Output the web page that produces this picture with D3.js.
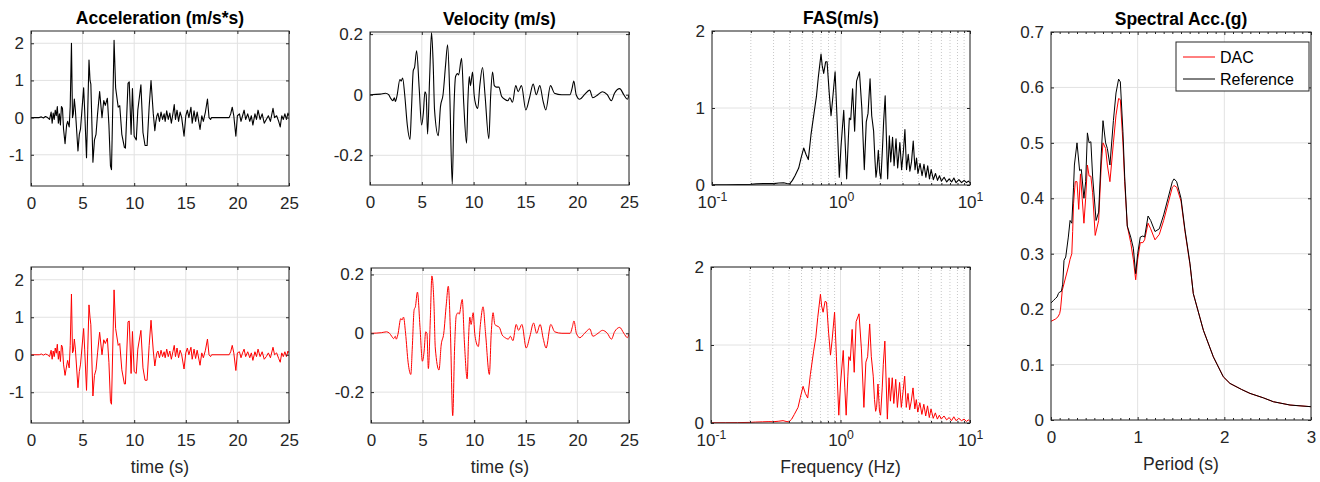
<!DOCTYPE html>
<html>
<head>
<meta charset="utf-8">
<script src="https://cdn.jsdelivr.net/npm/d3@7"></script>
<style>
body { margin: 0; background: #fff; }
svg { display: block; font-family: "Liberation Sans", Arial, sans-serif; }
</style>
</head>
<body>
<svg id="fig" width="1320" height="482"></svg>
<script>
// ground acceleration, reference record [t (s), a (m/s^2)]
var accRef = [[0,0],[0.8,0],[1.0,0.02],[1.2,-0.01],[1.4,0.03],[1.6,0],[1.8,-0.05],[1.95,0.15],[2.05,-0.15],[2.15,0.12],[2.25,-0.05],[2.35,0.2],[2.45,0.05],[2.55,0.3],[2.65,-0.15],[2.75,0.1],[2.85,-0.2],[2.95,0.3],[3.05,0.25],[3.15,-0.3],[3.3,-0.7],[3.45,-0.2],[3.55,-0.1],[3.7,-0.25],[3.8,0.3],[3.92,2.0],[4.02,0],[4.1,0.1],[4.2,0.5],[4.3,0.2],[4.55,-0.9],[4.68,-0.45],[4.8,-0.3],[5.1,0.8],[5.2,0.2],[5.38,-1.08],[5.5,0.2],[5.62,1.55],[5.72,1.0],[5.8,0.9],[6.0,-1.2],[6.15,-0.6],[6.3,-0.45],[6.45,0.1],[6.65,0.7],[6.88,0],[7.05,0.46],[7.2,0.33],[7.4,0.52],[7.55,-0.2],[7.7,-1.3],[7.8,-1.4],[8.05,2.08],[8.2,0.8],[8.45,0.28],[8.6,0.32],[8.8,-0.45],[9.05,-0.8],[9.15,-0.82],[9.4,0.92],[9.52,0.96],[9.7,-0.45],[9.83,0.78],[10.0,-0.5],[10.2,-0.6],[10.35,0.2],[10.65,0.88],[10.85,-0.4],[11.05,-0.75],[11.25,-0.75],[11.45,0.3],[11.63,1.0],[11.85,0.1],[12.0,-0.35],[12.1,-0.1],[12.2,0.05],[12.3,0.12],[12.45,-0.1],[12.6,0.15],[12.75,-0.05],[12.9,0.1],[13.0,-0.1],[13.15,0.18],[13.3,-0.05],[13.45,0.12],[13.6,-0.15],[13.75,0.1],[13.88,0.35],[14.0,-0.05],[14.15,0.2],[14.3,-0.1],[14.45,0.15],[14.6,0],[14.83,-0.5],[15.0,0.05],[15.15,0.2],[15.3,0],[15.5,0.28],[15.62,-0.15],[15.8,0.18],[15.95,-0.1],[16.1,0.15],[16.38,-0.32],[16.55,0.05],[16.7,-0.1],[16.9,0.15],[17.1,0.5],[17.25,0],[17.4,-0.05],[17.5,0],[19.2,0],[19.35,0.1],[19.5,0.28],[19.65,0.05],[19.85,-0.5],[20.0,0.05],[20.2,0.1],[20.35,-0.1],[20.5,0.05],[20.65,0.2],[20.8,-0.05],[21.0,0.1],[21.2,-0.1],[21.35,0.05],[21.5,-0.2],[21.7,0.1],[21.85,-0.05],[22.0,0.2],[22.2,-0.05],[22.4,0.1],[22.6,-0.15],[22.8,-0.05],[23.0,0.05],[23.2,-0.1],[23.45,0.25],[23.6,0],[23.8,0.05],[24.0,-0.1],[24.15,-0.25],[24.3,0.05],[24.45,-0.05],[24.6,0.1],[24.75,-0.05],[24.9,0.12],[25,0.05]];

// ground acceleration, DAC record
var accDac = [[0,0],[0.8,0],[1.0,0.02],[1.2,-0.01],[1.4,0.02],[1.6,0],[1.8,-0.05],[1.95,0.12],[2.05,-0.12],[2.15,0.1],[2.25,-0.05],[2.35,0.18],[2.45,0.04],[2.55,0.28],[2.65,-0.12],[2.75,0.1],[2.85,-0.18],[2.95,0.26],[3.05,0.2],[3.15,-0.25],[3.3,-0.55],[3.45,-0.3],[3.55,-0.15],[3.7,-0.35],[3.8,0.25],[3.92,1.62],[4.02,0.05],[4.1,0.1],[4.2,0.42],[4.3,0.15],[4.55,-0.88],[4.68,-0.45],[4.8,-0.25],[5.1,0.7],[5.2,0.15],[5.38,-0.95],[5.5,0.15],[5.62,1.33],[5.72,1.0],[5.8,0.8],[6.0,-1.1],[6.15,-0.55],[6.3,-0.4],[6.45,0.05],[6.65,0.6],[6.88,0],[7.05,0.4],[7.2,0.3],[7.4,0.44],[7.55,-0.2],[7.7,-1.25],[7.8,-1.32],[8.05,1.73],[8.2,0.7],[8.45,0.25],[8.6,0.3],[8.8,-0.4],[9.05,-0.78],[9.15,-0.78],[9.4,0.88],[9.52,0.9],[9.7,-0.5],[9.83,0.62],[10.0,-0.45],[10.2,-0.5],[10.35,0.15],[10.65,0.65],[10.85,-0.35],[11.05,-0.68],[11.25,-0.68],[11.45,0.25],[11.63,0.92],[11.85,0.1],[12.0,-0.3],[12.1,-0.1],[12.2,0.05],[12.3,0.1],[12.45,-0.08],[12.6,0.12],[12.75,-0.05],[12.9,0.08],[13.0,-0.08],[13.15,0.15],[13.3,-0.05],[13.45,0.1],[13.6,-0.12],[13.75,0.08],[13.88,0.25],[14.0,-0.05],[14.15,0.18],[14.3,-0.08],[14.45,0.12],[14.6,0],[14.83,-0.38],[15.0,0.05],[15.15,0.18],[15.3,0],[15.5,0.2],[15.62,-0.12],[15.8,0.15],[15.95,-0.1],[16.1,0.12],[16.38,-0.28],[16.55,0.05],[16.7,-0.08],[16.9,0.12],[17.1,0.42],[17.25,0],[17.4,-0.05],[17.5,0],[19.2,0],[19.35,0.08],[19.5,0.25],[19.65,0.05],[19.85,-0.42],[20.0,0.05],[20.2,0.08],[20.35,-0.08],[20.5,0.05],[20.65,0.15],[20.8,-0.05],[21.0,0.08],[21.2,-0.08],[21.35,0.05],[21.5,-0.15],[21.7,0.08],[21.85,-0.05],[22.0,0.15],[22.2,-0.05],[22.4,0.08],[22.6,-0.12],[22.8,-0.05],[23.0,0.05],[23.2,-0.08],[23.45,0.2],[23.6,0],[23.8,0.05],[24.0,-0.1],[24.15,-0.2],[24.3,0.05],[24.45,-0.05],[24.6,0.08],[24.75,-0.05],[24.9,0.1],[25,0.05]];

// ground velocity [t (s), v (m/s)]
var velRef = [[0,0],[1.0,0.002],[1.5,0.005],[1.8,0],[2.0,-0.012],[2.2,-0.02],[2.35,-0.01],[2.45,-0.022],[2.6,-0.005],[2.89,0.05],[3.0,0.045],[3.15,0.055],[3.35,0],[3.6,-0.1],[3.86,-0.148],[4.0,-0.05],[4.18,0.08],[4.3,0.09],[4.5,0.145],[4.75,0.02],[4.98,-0.1],[5.15,-0.06],[5.3,0.01],[5.42,0],[5.56,-0.13],[5.75,0.05],[5.94,0.205],[6.1,0.1],[6.23,-0.05],[6.59,-0.135],[6.8,-0.04],[7.05,0],[7.3,0.1],[7.49,0.165],[7.7,0],[7.94,-0.295],[8.1,-0.05],[8.26,0.06],[8.45,0.07],[8.55,0.065],[8.84,0.12],[9.05,-0.03],[9.32,-0.16],[9.45,-0.02],[9.58,0.06],[9.7,0.03],[9.9,0.075],[10.05,0],[10.19,-0.03],[10.4,-0.045],[10.6,0.03],[10.86,0.09],[11.1,0],[11.47,-0.145],[11.65,0],[11.83,0.075],[12.0,0.03],[12.2,0.025],[12.44,0.025],[12.7,-0.005],[13.0,-0.015],[13.3,-0.02],[13.5,-0.01],[13.75,-0.025],[14.07,0.03],[14.3,0.01],[14.62,0.03],[15.04,-0.05],[15.4,-0.01],[15.75,0.035],[16.05,0],[16.39,0.03],[16.7,-0.02],[16.97,-0.05],[17.42,0.03],[17.8,0.005],[18.5,0],[19.3,0],[19.5,0.02],[19.67,0.045],[19.9,0],[20.24,-0.015],[20.7,0],[21.2,0.015],[21.5,-0.01],[22.0,0],[22.43,0.01],[22.9,0],[23.3,-0.02],[23.6,0.005],[24.1,0.02],[24.5,0],[24.85,-0.015],[25,0]];

var velDac = [[0,0],[1.0,0.002],[1.5,0.005],[1.8,0],[2.0,-0.01],[2.2,-0.018],[2.35,-0.01],[2.45,-0.02],[2.6,-0.005],[2.89,0.05],[3.0,0.045],[3.15,0.055],[3.35,0],[3.6,-0.1],[3.86,-0.14],[4.0,-0.05],[4.18,0.08],[4.3,0.09],[4.5,0.14],[4.75,0.02],[4.98,-0.095],[5.15,-0.06],[5.3,0.005],[5.42,0],[5.56,-0.12],[5.75,0.05],[5.9,0.195],[6.1,0.1],[6.23,-0.05],[6.59,-0.125],[6.8,-0.04],[7.05,0],[7.3,0.1],[7.49,0.16],[7.7,0],[7.92,-0.28],[8.1,-0.05],[8.26,0.06],[8.45,0.07],[8.55,0.065],[8.84,0.115],[9.05,-0.03],[9.32,-0.155],[9.45,-0.02],[9.58,0.055],[9.7,0.03],[9.9,0.07],[10.05,0],[10.19,-0.03],[10.4,-0.045],[10.6,0.03],[10.86,0.09],[11.1,0],[11.47,-0.14],[11.65,0],[11.83,0.07],[12.0,0.03],[12.2,0.025],[12.44,0.02],[12.7,-0.005],[13.0,-0.015],[13.3,-0.02],[13.5,-0.01],[13.75,-0.025],[14.07,0.03],[14.3,0.01],[14.62,0.03],[15.04,-0.05],[15.4,-0.01],[15.75,0.035],[16.05,0],[16.39,0.03],[16.7,-0.02],[16.97,-0.05],[17.42,0.03],[17.8,0.005],[18.5,0],[19.3,0],[19.5,0.02],[19.67,0.042],[19.9,0],[20.24,-0.015],[20.7,0],[21.2,0.015],[21.5,-0.01],[22.0,0],[22.43,0.01],[22.9,0],[23.3,-0.02],[23.6,0.005],[24.1,0.02],[24.5,0],[24.85,-0.015],[25,0]];

// Fourier amplitude spectrum [f (Hz), FAS]
var fasRef = [[0.1,0.003],[0.13,0.004],[0.16,0.005],[0.2,0.008],[0.22,0.015],[0.25,0.018],[0.28,0.02],[0.3,0.018],[0.33,0.025],[0.36,0.03],[0.38,0.02],[0.4,0.015],[0.42,0.06],[0.44,0.12],[0.47,0.22],[0.49,0.35],[0.514,0.48],[0.535,0.4],[0.558,0.33],[0.585,0.65],[0.62,0.95],[0.645,1.15],[0.667,1.4],[0.7,1.7],[0.715,1.55],[0.734,1.45],[0.76,1.6],[0.78,1.6],[0.81,1.2],[0.837,0.9],[0.86,1.1],[0.9,1.47],[0.93,0.9],[0.97,0.1],[1.0,0.5],[1.05,0.97],[1.08,0.5],[1.106,0.08],[1.14,0.6],[1.16,0.87],[1.19,0.85],[1.23,1.25],[1.276,0.7],[1.32,1.35],[1.39,1.47],[1.45,1.0],[1.516,0.2],[1.57,0.82],[1.62,0.93],[1.68,1.38],[1.73,0.9],[1.79,0.7],[1.83,0.35],[1.867,0.1],[1.9,0.2],[1.947,0.45],[2.0,0.15],[2.04,0.08],[2.1,0.5],[2.14,0.82],[2.2,1.16],[2.25,0.6],[2.3,0.08],[2.37,0.64],[2.43,0.3],[2.51,0.62],[2.58,0.25],[2.67,0.6],[2.75,0.22],[2.86,0.55],[2.95,0.2],[3.05,0.45],[3.13,0.72],[3.22,0.2],[3.32,0.4],[3.42,0.18],[3.52,0.3],[3.63,0.57],[3.75,0.2],[3.85,0.35],[3.95,0.15],[4.1,0.28],[4.25,0.12],[4.4,0.27],[4.55,0.1],[4.7,0.25],[4.85,0.08],[5.0,0.2],[5.2,0.07],[5.4,0.15],[5.6,0.06],[5.8,0.12],[6.0,0.05],[6.3,0.1],[6.6,0.04],[6.9,0.08],[7.2,0.04],[7.5,0.09],[7.8,0.03],[8.2,0.07],[8.6,0.03],[9.0,0.06],[9.4,0.03],[9.7,0.05],[10,0.03]];

var fasDac = [[0.1,0.003],[0.13,0.004],[0.16,0.005],[0.2,0.008],[0.22,0.012],[0.25,0.015],[0.28,0.018],[0.3,0.016],[0.33,0.022],[0.36,0.03],[0.38,0.02],[0.4,0.015],[0.42,0.05],[0.44,0.11],[0.47,0.2],[0.49,0.33],[0.514,0.47],[0.535,0.38],[0.558,0.32],[0.585,0.62],[0.62,0.92],[0.645,1.1],[0.667,1.35],[0.7,1.65],[0.715,1.5],[0.734,1.42],[0.76,1.56],[0.78,1.55],[0.81,1.15],[0.837,0.87],[0.86,1.05],[0.9,1.42],[0.93,0.85],[0.97,0.1],[1.0,0.5],[1.05,0.93],[1.08,0.45],[1.106,0.1],[1.14,0.6],[1.16,0.85],[1.19,0.8],[1.23,1.2],[1.276,0.65],[1.32,1.3],[1.39,1.4],[1.45,0.95],[1.516,0.2],[1.57,0.78],[1.62,0.85],[1.68,1.27],[1.73,0.85],[1.79,0.6],[1.83,0.3],[1.867,0.15],[1.9,0.2],[1.947,0.5],[2.0,0.15],[2.04,0.1],[2.1,0.45],[2.14,0.75],[2.2,1.05],[2.25,0.55],[2.3,0.05],[2.37,0.58],[2.43,0.28],[2.51,0.58],[2.58,0.25],[2.67,0.56],[2.75,0.2],[2.86,0.52],[2.95,0.2],[3.05,0.42],[3.13,0.6],[3.22,0.2],[3.32,0.38],[3.42,0.17],[3.52,0.28],[3.63,0.45],[3.75,0.18],[3.85,0.3],[3.95,0.14],[4.1,0.26],[4.25,0.11],[4.4,0.24],[4.55,0.09],[4.7,0.22],[4.85,0.07],[5.0,0.18],[5.2,0.06],[5.4,0.13],[5.6,0.05],[5.8,0.1],[6.0,0.05],[6.3,0.09],[6.6,0.04],[6.9,0.07],[7.2,0.03],[7.5,0.08],[7.8,0.03],[8.2,0.06],[8.6,0.03],[9.0,0.05],[9.4,0.02],[9.7,0.04],[10,0.02]];

// pseudo spectral acceleration [T (s), Sa (g)]
var saDac = [[0,0.178],[0.05,0.182],[0.08,0.186],[0.1,0.192],[0.11,0.2],[0.13,0.234],[0.17,0.258],[0.2,0.276],[0.22,0.29],[0.24,0.3],[0.25,0.34],[0.26,0.39],[0.28,0.43],[0.3,0.43],[0.32,0.38],[0.34,0.444],[0.36,0.4],[0.38,0.355],[0.4,0.4],[0.42,0.46],[0.44,0.44],[0.46,0.44],[0.48,0.41],[0.51,0.333],[0.55,0.36],[0.58,0.46],[0.6,0.5],[0.63,0.49],[0.65,0.46],[0.68,0.43],[0.72,0.5],[0.75,0.55],[0.78,0.58],[0.8,0.578],[0.83,0.5],[0.85,0.43],[0.88,0.35],[0.92,0.32],[0.95,0.29],[0.977,0.253],[1.0,0.29],[1.03,0.32],[1.06,0.32],[1.08,0.325],[1.12,0.355],[1.15,0.345],[1.2,0.325],[1.25,0.335],[1.3,0.36],[1.35,0.39],[1.4,0.42],[1.42,0.423],[1.45,0.42],[1.5,0.395],[1.546,0.34],[1.604,0.28],[1.642,0.228],[1.7,0.195],[1.758,0.162],[1.873,0.114],[1.988,0.078],[2.065,0.066],[2.2,0.055],[2.296,0.048],[2.45,0.04],[2.565,0.033],[2.758,0.027],[3,0.024]];

var saRef = [[0,0.211],[0.03,0.216],[0.05,0.219],[0.07,0.222],[0.085,0.228],[0.1,0.231],[0.12,0.232],[0.135,0.245],[0.15,0.288],[0.17,0.294],[0.2,0.33],[0.22,0.36],[0.24,0.355],[0.26,0.42],[0.27,0.46],[0.3,0.5],[0.33,0.45],[0.35,0.452],[0.38,0.4],[0.4,0.43],[0.42,0.518],[0.44,0.5],[0.46,0.502],[0.48,0.44],[0.52,0.36],[0.55,0.375],[0.58,0.48],[0.6,0.54],[0.63,0.5],[0.65,0.49],[0.68,0.46],[0.72,0.54],[0.75,0.59],[0.78,0.615],[0.8,0.61],[0.83,0.52],[0.85,0.44],[0.88,0.35],[0.92,0.33],[0.95,0.31],[0.977,0.264],[1.0,0.3],[1.03,0.33],[1.06,0.332],[1.08,0.33],[1.12,0.368],[1.15,0.36],[1.2,0.34],[1.25,0.345],[1.3,0.37],[1.35,0.4],[1.4,0.43],[1.42,0.435],[1.45,0.43],[1.5,0.4],[1.546,0.343],[1.604,0.282],[1.642,0.228],[1.7,0.195],[1.758,0.162],[1.873,0.114],[1.988,0.078],[2.065,0.066],[2.2,0.055],[2.296,0.048],[2.45,0.04],[2.565,0.033],[2.758,0.027],[3,0.024]];

// tick values
var timeTicks = [0, 5, 10, 15, 20, 25];
var accTicks = [-1, 0, 1, 2];
var velTicks = [-0.2, 0, 0.2];
var freqTicks = [0.1, 1, 10];
var freqMinor = [0.2, 0.3, 0.4, 0.5, 0.6, 0.7, 0.8, 0.9, 2, 3, 4, 5, 6, 7, 8, 9];
var fasTicks = [0, 1, 2];
var periodTicks = [0, 1, 2, 3];
var periodMinor = [0.1, 0.2, 0.3, 0.4, 0.5, 0.6, 0.7, 0.8, 0.9, 1.1, 1.2, 1.3, 1.4, 1.5, 1.6, 1.7, 1.8, 1.9, 2.1, 2.2, 2.3, 2.4, 2.5, 2.6, 2.7, 2.8, 2.9];
var saTicks = [0, 0.1, 0.2, 0.3, 0.4, 0.5, 0.6, 0.7];
var legendNames = ["DAC", "Reference"];

var svg = d3.select("#fig");
var ink = "#262626";
var nclip = 0;

function panel(o) {
    var g = svg.append("g");
    var x = (o.log ? d3.scaleLog() : d3.scaleLinear()).domain(o.xd).range([o.x0, o.x1]);
    var y = d3.scaleLinear().domain(o.yd).range([o.y1, o.y0]);

    // grid
    if (o.xMinor) {
        g.selectAll(null).data(o.xMinor).join("line")
            .attr("x1", d => x(d)).attr("x2", d => x(d)).attr("y1", o.y0).attr("y2", o.y1)
            .attr("stroke", "#c8c8c8").attr("stroke-dasharray", "1,2");
    }
    g.selectAll(null).data(o.xt).join("line")
        .attr("x1", d => x(d)).attr("x2", d => x(d)).attr("y1", o.y0).attr("y2", o.y1)
        .attr("stroke", "#e2e2e2");
    g.selectAll(null).data(o.yt).join("line")
        .attr("x1", o.x0).attr("x2", o.x1).attr("y1", d => y(d)).attr("y2", d => y(d))
        .attr("stroke", "#e2e2e2");

    // curves
    var id = "clip" + (nclip++);
    g.append("clipPath").attr("id", id).append("rect")
        .attr("x", o.x0).attr("y", o.y0).attr("width", o.x1 - o.x0).attr("height", o.y1 - o.y0);
    var line = d3.line().x(d => x(d[0])).y(d => y(d[1])).curve(o.smooth ? d3.curveMonotoneX : d3.curveLinear);
    o.series.forEach(function(s) {
        g.append("path").datum(s.data).attr("d", line).attr("clip-path", "url(#" + id + ")")
            .attr("fill", "none").attr("stroke", s.color).attr("stroke-width", s.w)
            .attr("stroke-linejoin", "round");
    });

    // axes, ticks pointing inward on all four sides
    var fmt = d => String(d);
    var bx = g.append("g").attr("transform", "translate(0," + o.y1 + ")")
        .call(d3.axisBottom(x).tickValues(o.xt).tickSize(-3).tickPadding(11).tickFormat(o.xfmt ? "" : fmt));
    g.append("g").attr("transform", "translate(0," + o.y0 + ")")
        .call(d3.axisTop(x).tickValues(o.xt).tickSize(-3).tickFormat(""));
    g.append("g").attr("transform", "translate(" + o.x0 + ",0)")
        .call(d3.axisLeft(y).tickValues(o.yt).tickSize(-3).tickPadding(7).tickFormat(fmt));
    g.append("g").attr("transform", "translate(" + o.x1 + ",0)")
        .call(d3.axisRight(y).tickValues(o.yt).tickSize(-3).tickFormat(""));
    if (o.xMinorTicks) {
        g.append("g").attr("transform", "translate(0," + o.y1 + ")")
            .call(d3.axisBottom(x).tickValues(o.xMinorTicks).tickSize(-2).tickFormat(""));
        g.append("g").attr("transform", "translate(0," + o.y0 + ")")
            .call(d3.axisTop(x).tickValues(o.xMinorTicks).tickSize(-2).tickFormat(""));
    }
    g.selectAll(".domain").remove();
    g.selectAll(".tick line").attr("stroke", ink);
    g.selectAll(".tick text").attr("fill", ink).attr("font-size", 17).attr("font-family", null);

    if (o.xfmt) {
        bx.selectAll(".tick text").each(function(d) {
            var t = d3.select(this);
            t.text("10");
            t.append("tspan").attr("dy", "-0.55em").attr("font-size", "0.72em").text(Math.round(Math.log10(d)));
        });
    }

    g.append("rect").attr("x", o.x0).attr("y", o.y0).attr("width", o.x1 - o.x0).attr("height", o.y1 - o.y0)
        .attr("fill", "none").attr("stroke", ink).attr("stroke-width", 1);

    if (o.title) {
        g.append("text").attr("x", (o.x0 + o.x1) / 2).attr("y", o.y0 - 7).attr("text-anchor", "middle")
            .attr("font-weight", "bold").attr("font-size", 17.5).attr("fill", "#000").text(o.title);
    }
    if (o.xlabel) {
        g.append("text").attr("x", (o.x0 + o.x1) / 2).attr("y", o.y1 + 50).attr("text-anchor", "middle")
            .attr("font-size", 17.5).attr("fill", ink).text(o.xlabel);
    }
    return {x: x, y: y, g: g};
}

var red = "#ff0000", black = "#000000";

panel({x0: 31, x1: 289, y0: 31, y1: 186, xd: [0, 25], yd: [-1.84, 2.33], xt: timeTicks, yt: accTicks,
    series: [{data: accRef, color: black, w: 1.1}], title: "Acceleration (m/s*s)"});
panel({x0: 370, x1: 629, y0: 32, y1: 185, xd: [0, 25], yd: [-0.298, 0.207], xt: timeTicks, yt: velTicks,
    smooth: true, series: [{data: velRef, color: black, w: 1.1}], title: "Velocity (m/s)"});
panel({x0: 712, x1: 970, y0: 31, y1: 185, log: true, xd: [0.1, 10], yd: [0, 2], xt: freqTicks, yt: fasTicks,
    xMinor: freqMinor, xMinorTicks: freqMinor, xfmt: true,
    series: [{data: fasRef, color: black, w: 1.1}], title: "FAS(m/s)"});

panel({x0: 31, x1: 289, y0: 267, y1: 423, xd: [0, 25], yd: [-1.82, 2.34], xt: timeTicks, yt: accTicks,
    series: [{data: accDac, color: red, w: 1}], xlabel: "time (s)"});
panel({x0: 371, x1: 629, y0: 268, y1: 423, xd: [0, 25], yd: [-0.305, 0.222], xt: timeTicks, yt: velTicks,
    smooth: true, series: [{data: velDac, color: red, w: 1}], xlabel: "time (s)"});
panel({x0: 711, x1: 970, y0: 267, y1: 423, log: true, xd: [0.1, 10], yd: [0, 2], xt: freqTicks, yt: fasTicks,
    xMinor: freqMinor, xMinorTicks: freqMinor, xfmt: true,
    series: [{data: fasDac, color: red, w: 1}], xlabel: "Frequency (Hz)"});

var sa = panel({x0: 1051, x1: 1311, y0: 32, y1: 420, xd: [0, 3], yd: [0, 0.7], xt: periodTicks, yt: saTicks,
    xMinorTicks: periodMinor,
    series: [{data: saDac, color: red, w: 1}, {data: saRef, color: black, w: 1}],
    title: "Spectral Acc.(g)", xlabel: "Period (s)"});

// legend
var lg = sa.g.append("g");
lg.append("rect").attr("x", 1176).attr("y", 42).attr("width", 133).attr("height", 49)
    .attr("fill", "#fff").attr("stroke", ink);
lg.selectAll(null).data(legendNames).join("line")
    .attr("x1", 1183).attr("x2", 1215).attr("y1", (d, i) => 57 + i * 22).attr("y2", (d, i) => 57 + i * 22)
    .attr("stroke", (d, i) => i ? black : red).attr("stroke-width", 1);
lg.selectAll(null).data(legendNames).join("text")
    .attr("x", 1220).attr("y", (d, i) => 57 + i * 22).attr("dy", "0.35em")
    .attr("font-size", 16).attr("fill", "#000").text(d => d);
</script>
</body>
</html>
